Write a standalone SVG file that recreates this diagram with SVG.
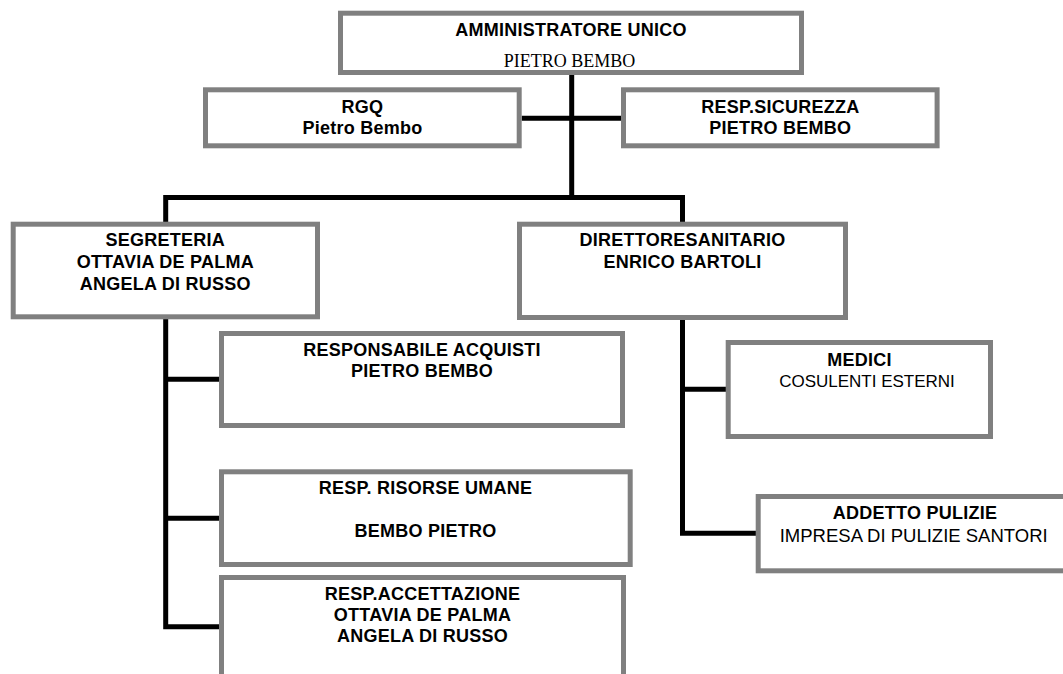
<svg xmlns="http://www.w3.org/2000/svg" width="1063" height="674" viewBox="0 0 1063 674">
  <style>
    .box { fill: #ffffff; stroke: #808080; stroke-width: 5; }
    .con { fill: none; stroke: #000000; stroke-width: 5; stroke-linejoin: miter; stroke-linecap: butt; }
    .b { font-family: "Liberation Sans", Arial, sans-serif; font-weight: bold; font-size: 18px; letter-spacing: 0.25px; text-anchor: middle; fill: #000; }
    .r { font-family: "Liberation Sans", Arial, sans-serif; font-size: 17px; text-anchor: middle; fill: #000; }
    .s { font-family: "Liberation Serif", "Times New Roman", serif; font-size: 18px; text-anchor: middle; fill: #000; }
  </style>
  <rect width="1063" height="674" fill="#ffffff"/>
  <g id="connectors">
    <path class="con" d="M571.7,75 V197.5"/>
    <path class="con" d="M521.7,118.3 H621"/>
    <path class="con" d="M165.7,222 V197.5 H682.5 V222"/>
    <path class="con" d="M165.7,319 V626.7 H219"/>
    <path class="con" d="M165.7,379.3 H219"/>
    <path class="con" d="M165.7,518.3 H219"/>
    <path class="con" d="M682.5,320 V533.3 H756"/>
    <path class="con" d="M682.5,389.3 H726"/>
  </g>
  <g id="amministratore">
    <rect class="box" x="340.5" y="13.2" width="461" height="59.3"/>
    <text class="b" x="571" y="36">AMMINISTRATORE UNICO</text>
    <text class="s" x="569.5" y="66.7">PIETRO BEMBO</text>
  </g>
  <g id="rgq">
    <rect class="box" x="205.5" y="89.8" width="313.7" height="56"/>
    <text class="b" x="362.5" y="113.3">RGQ</text>
    <text class="b" x="362.5" y="134">Pietro Bembo</text>
  </g>
  <g id="sicurezza">
    <rect class="box" x="623.5" y="89.8" width="313.6" height="56"/>
    <text class="b" x="780.3" y="113.3">RESP.SICUREZZA</text>
    <text class="b" x="780.3" y="134">PIETRO BEMBO</text>
  </g>
  <g id="segreteria">
    <rect class="box" x="13.2" y="224.2" width="304.3" height="92.6"/>
    <text class="b" x="165.3" y="245.7">SEGRETERIA</text>
    <text class="b" x="165.3" y="268">OTTAVIA DE PALMA</text>
    <text class="b" x="165.3" y="290">ANGELA DI RUSSO</text>
  </g>
  <g id="direttore">
    <rect class="box" x="519.5" y="224.2" width="326" height="93.3"/>
    <text class="b" x="682.5" y="246">DIRETTORESANITARIO</text>
    <text class="b" x="682.5" y="268.3">ENRICO BARTOLI</text>
  </g>
  <g id="acquisti">
    <rect class="box" x="221.5" y="333.5" width="401" height="92"/>
    <text class="b" x="422" y="355.7">RESPONSABILE ACQUISTI</text>
    <text class="b" x="422" y="377">PIETRO BEMBO</text>
  </g>
  <g id="risorse">
    <rect class="box" x="221.5" y="471.8" width="408.7" height="92.7"/>
    <text class="b" x="425.5" y="494.3">RESP. RISORSE UMANE</text>
    <text class="b" x="425.5" y="537.3">BEMBO PIETRO</text>
  </g>
  <g id="accettazione">
    <rect class="box" x="221.5" y="577.5" width="402" height="110"/>
    <text class="b" x="422.5" y="600">RESP.ACCETTAZIONE</text>
    <text class="b" x="422.5" y="621">OTTAVIA DE PALMA</text>
    <text class="b" x="422.5" y="641.7">ANGELA DI RUSSO</text>
  </g>
  <g id="medici">
    <rect class="box" x="728.2" y="342.5" width="262.3" height="94"/>
    <text class="b" x="859.5" y="365.7">MEDICI</text>
    <text class="r" x="867" y="386.7">COSULENTI ESTERNI</text>
  </g>
  <g id="pulizie">
    <rect class="box" x="758.2" y="496.5" width="320" height="74.3"/>
    <text class="b" x="915" y="519">ADDETTO PULIZIE</text>
    <text class="r" x="913.7" y="541.7" style="font-size:18.5px">IMPRESA DI PULIZIE SANTORI</text>
  </g>
</svg>
